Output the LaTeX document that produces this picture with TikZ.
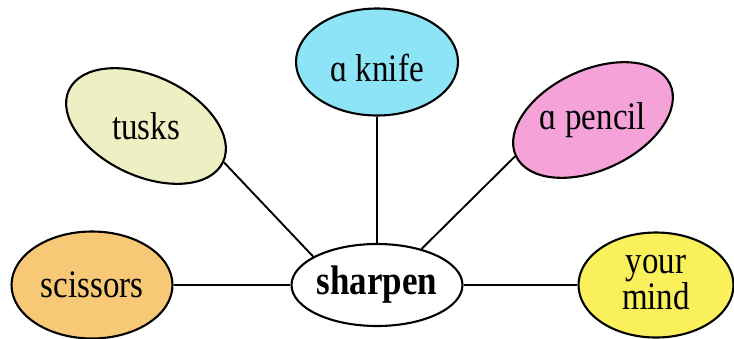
\documentclass[tikz,border=0pt]{standalone}
\usepackage{fontspec}
\setmainfont{Liberation Serif}
\usepackage{graphicx}
\usepackage{tikz}
\usetikzlibrary{shapes.geometric, arrows, positioning}
\definecolor{mytusks}{RGB}{238,240,196}
\definecolor{myknife}{RGB}{140,228,246}
\definecolor{mypencil}{RGB}{245,162,216}
\definecolor{myscissors}{RGB}{247,201,118}
\definecolor{mymind}{RGB}{250,240,92}
\newcommand{\tallword}[1]{\scalebox{1}[1.18]{#1}}
\tikzstyle{bubble} = [ellipse, draw=black, line width=2.1pt, minimum width=164pt, minimum height=106pt, inner sep=0pt]
\tikzstyle{word} = [font=\fontsize{33}{26}\selectfont, align=center, inner sep=0pt]
\tikzstyle{link} = [line width=1.9pt]

\begin{document}
\begin{tikzpicture}[x=1pt, y=-1pt]
    \useasboundingbox (0,0) rectangle (734,338);
    % hub
    \node (sharpen) [bubble, fill=white, minimum width=171pt, minimum height=82pt, font=\fontsize{35}{35}\selectfont\bfseries] at (377,285) {\tallword{sharpen}};
    % outer words
    \node (tusks) [bubble, fill=mytusks, rotate=-25, minimum width=170pt, minimum height=100pt] at (146,126) {};
    \node (tuskstext) [word] at (tusks) {\tallword{tusks}};
    \node (knife) [bubble, fill=myknife, minimum width=162pt, minimum height=107pt] at (377,62) {};
    \node (knifetext) [word] at ([yshift=-6pt]knife.center) {\tallword{ɑ knife}};
    \node (pencil) [bubble, fill=mypencil, rotate=25, minimum width=170pt, minimum height=100pt] at (593,120) {};
    \node (penciltext) [word] at (pencil) {\tallword{ɑ pencil}};
    \node (scissors) [bubble, fill=myscissors, minimum width=161pt, minimum height=107pt] at (92,285) {};
    \node (scissorstext) [word] at (scissors) {\tallword{scissors}};
    \node (mind) [bubble, fill=mymind, minimum width=155pt, minimum height=105pt] at (656,285) {};
    \node (mindtext) [word] at (mind) {\tallword{\begin{tabular}{@{}c@{}}your\\mind\end{tabular}}};
    % spokes
    \draw [link] (tusks.east) -- (sharpen.156);
    \draw [link] (knife) -- (sharpen);
    \draw [link] (pencil.west) -- (sharpen.39);
    \draw [link] (scissors) -- (sharpen);
    \draw [link] (sharpen) -- (mind);
\end{tikzpicture}
\end{document}
